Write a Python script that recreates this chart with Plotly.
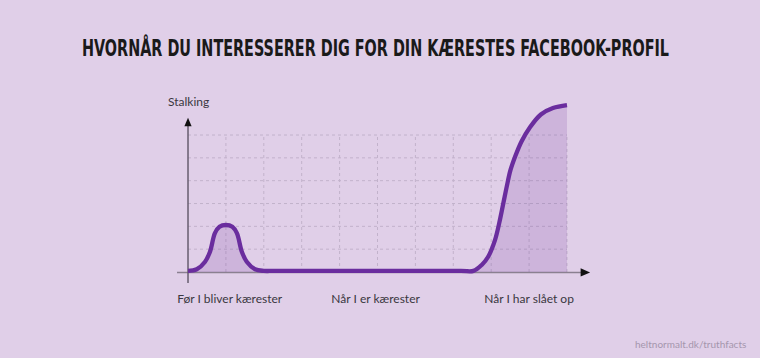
import plotly.graph_objects as go

# ---- data ----
title_text = "HVORNÅR DU INTERESSERER DIG FOR DIN KÆRESTES FACEBOOK-PROFIL"
y_label = "Stalking"
phase_pos = [1.1, 4.95, 9.0]
phase_labels = ["Før I bliver kærester", "Når I er kærester", "Når I har slået op"]
curve_x = [0, 0.23, 0.45, 0.58, 0.71, 0.83, 1.0, 1.17, 1.29, 1.42, 1.55, 1.77, 2.0, 2.3,
           7.2, 7.53, 7.75, 7.92, 8.10, 8.21, 8.32, 8.41, 8.51, 8.63, 8.80, 9.02, 9.31, 9.63, 10.0]
curve_y = [0.05, 0.12, 0.45, 0.89, 1.70, 1.98, 2.06, 1.98, 1.70, 0.89, 0.45, 0.12, 0.05, 0.05,
           0.05, 0.05, 0.31, 0.67, 1.40, 2.13, 3.01, 3.74, 4.47, 5.05, 5.72, 6.33, 6.90, 7.18, 7.31]
grid_x = [1, 2, 3, 4, 5, 6, 7, 8, 9, 10]
grid_y = [1, 2, 3, 4, 5, 6]
source = "heltnormalt.dk/truthfacts"

BG = "#e0cfe8"
PURPLE = "#6a2d9e"
AXIS = "#5e5566"
TXT = "#3a3740"

fig = go.Figure()
fig.add_trace(go.Scatter(
    x=curve_x, y=curve_y, mode="lines",
    line=dict(color=PURPLE, width=4.3, shape="spline", smoothing=1.0),
    fill="tozeroy", fillcolor="rgba(106,45,158,0.16)",
    hoverinfo="skip", showlegend=False,
))

shapes = []
for gx in grid_x:
    shapes.append(dict(type="line", xref="x", yref="y", x0=gx, x1=gx, y0=0, y1=max(grid_y),
                       line=dict(color="#c2b2cb", width=1, dash="dot"), layer="below"))
for gy in grid_y:
    shapes.append(dict(type="line", xref="x", yref="y", x0=0, x1=max(grid_x), y0=gy, y1=gy,
                       line=dict(color="#c2b2cb", width=1, dash="dot"), layer="below"))
# axes
shapes.append(dict(type="line", xref="x", yref="y", x0=-0.29, x1=10.45, y0=-0.02, y1=-0.02,
                   line=dict(color="#8a8090", width=1.6), layer="below"))
shapes.append(dict(type="line", xref="x", yref="y", x0=0, x1=0, y0=-0.48, y1=6.5,
                   line=dict(color=AXIS, width=1.4), layer="below"))
# arrow heads
shapes.append(dict(type="path", xref="x", yref="y",
                   path="M 10.61 -0.02 L 10.36 0.16 L 10.36 -0.2 Z",
                   fillcolor="#111111", line=dict(width=0)))
shapes.append(dict(type="path", xref="x", yref="y",
                   path="M 0 6.76 L -0.095 6.38 L 0.095 6.38 Z",
                   fillcolor="#111111", line=dict(width=0)))

annotations = [
    dict(text=y_label, x=0, y=7.47, xref="x", yref="y", showarrow=False,
         xanchor="center", yanchor="middle", font=dict(family="Lato", size=12, color=TXT)),
    dict(text=source, x=1.3, y=-0.277, xref="paper", yref="paper", showarrow=False,
         xanchor="right", yanchor="middle", font=dict(family="Lato", size=10, color="#a596ad")),
]

fig.update_layout(
    width=760, height=358,
    margin=dict(l=150, r=150, t=95, b=68),
    paper_bgcolor=BG, plot_bgcolor=BG,
    title=dict(text=title_text, x=375.5 / 760, xanchor="center", y=1 - 50 / 358, yanchor="middle",
               font=dict(family="DejaVu Sans Condensed", size=16,
                         color="#1a1a1a", weight="bold")),
    xaxis=dict(range=[-1.003, 11.135], showgrid=False, zeroline=False, showline=False,
               tickvals=phase_pos, ticktext=phase_labels, ticks="",
               tickfont=dict(family="Lato", size=12, color=TXT), fixedrange=True),
    yaxis=dict(range=[-0.788, 7.753], showgrid=False, zeroline=False, showline=False,
               showticklabels=False, ticks="", fixedrange=True),
    shapes=shapes, annotations=annotations, showlegend=False,
)

post = """
var gd = document.getElementById('{plot_id}');
var t = gd.querySelector('.gtitle');
if (t) {
  var bb = t.getBBox();
  var yb = bb.y + bb.height * 0.797;
  var s = 1.45;
  t.setAttribute('transform', 'translate(0,' + (56 - s * yb) + ') scale(1,' + s + ')');
}
"""
fig.write_html("out.html", post_script=post, config={"displayModeBar": False})
